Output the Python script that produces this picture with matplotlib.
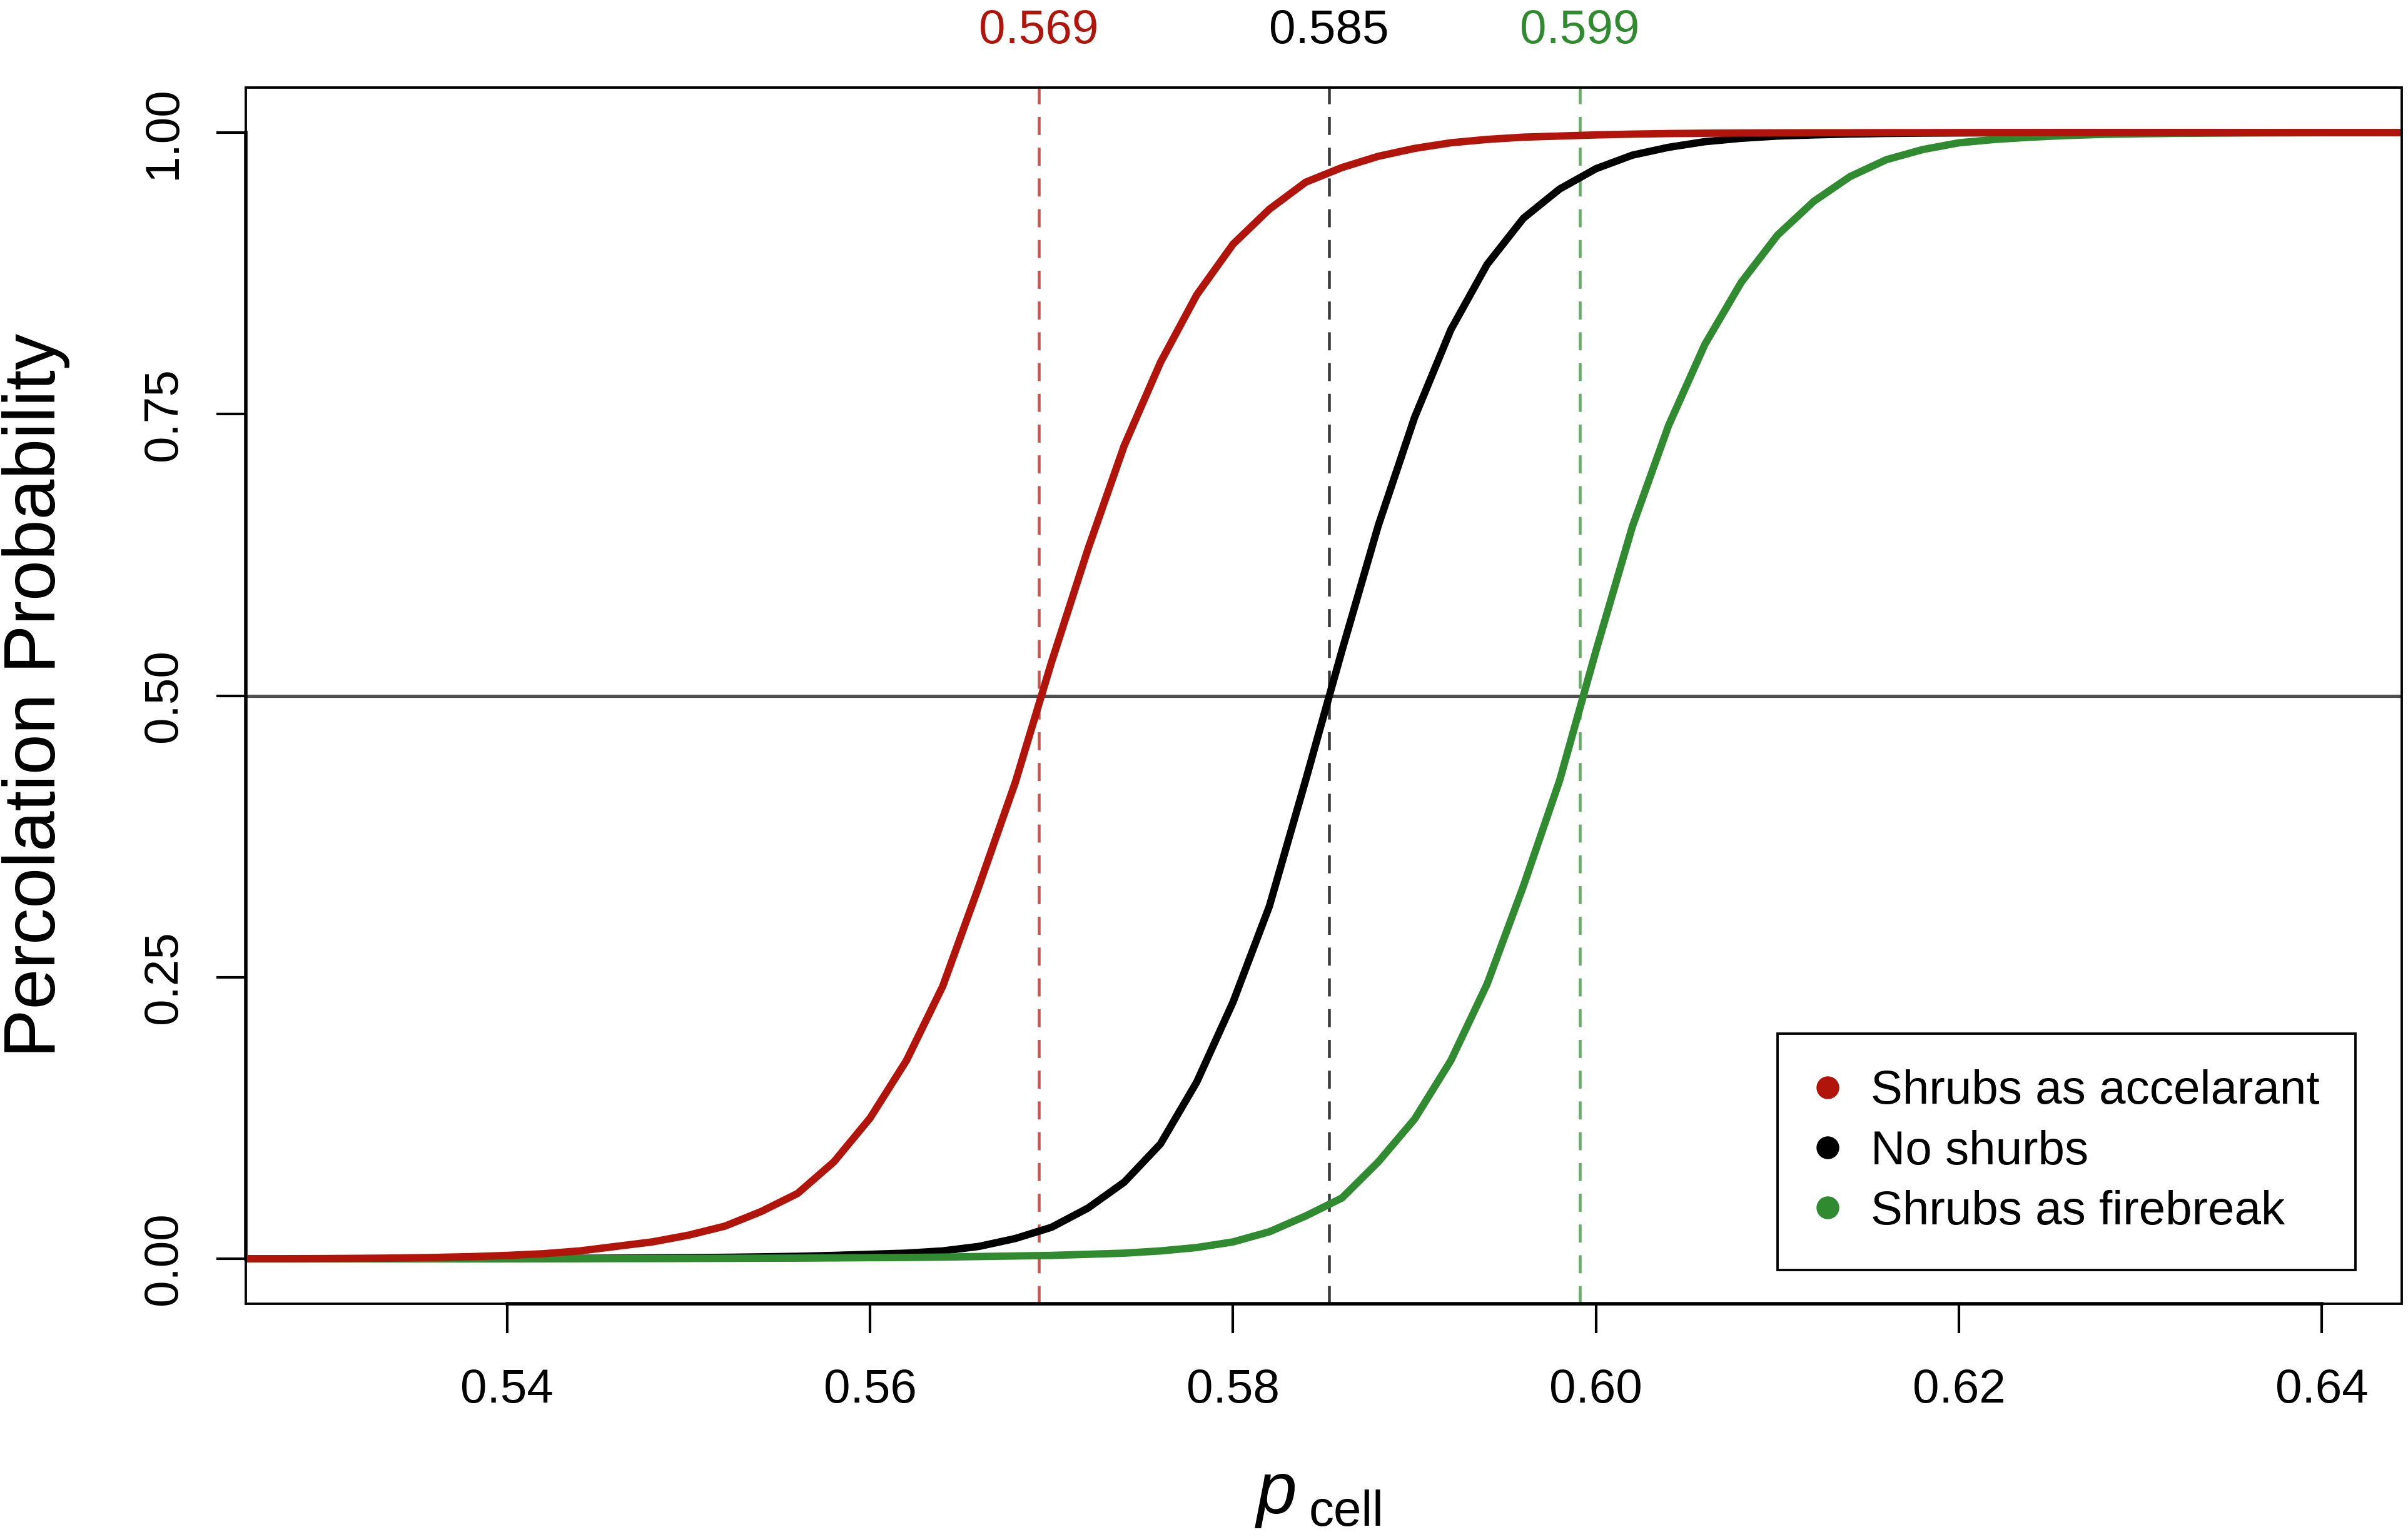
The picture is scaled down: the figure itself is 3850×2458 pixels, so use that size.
import matplotlib
matplotlib.use("Agg")
import matplotlib.pyplot as plt
from matplotlib.lines import Line2D
from matplotlib.patches import Rectangle

p_cell = [0.524, 0.526, 0.528,
          0.530, 0.532, 0.534, 0.536, 0.538, 0.540, 0.542, 0.544, 0.546, 0.548,
          0.550, 0.552, 0.554, 0.556, 0.558, 0.560, 0.562, 0.564, 0.566, 0.568,
          0.570, 0.572, 0.574, 0.576, 0.578, 0.580, 0.582, 0.584, 0.586, 0.588,
          0.590, 0.592, 0.594, 0.596, 0.598, 0.600, 0.602, 0.604, 0.606, 0.608,
          0.610, 0.612, 0.614, 0.616, 0.618, 0.620, 0.622, 0.624, 0.626, 0.628,
          0.630, 0.632, 0.634, 0.636, 0.638, 0.640, 0.642, 0.644, 0.646]

accelerant = [0.0, 0.0001, 0.0001,
              0.0002, 0.0004, 0.0007, 0.0012, 0.0019, 0.003, 0.0045, 0.007, 0.011, 0.015,
              0.021, 0.029, 0.042, 0.058, 0.086, 0.125, 0.176, 0.242, 0.331, 0.423,
              0.530, 0.630, 0.722, 0.796, 0.856, 0.901, 0.932, 0.956, 0.969, 0.979,
              0.986, 0.991, 0.994, 0.996, 0.997, 0.998, 0.9987, 0.9992, 0.9995, 0.9997,
              0.9998, 0.9999, 0.9999, 1.0, 1.0, 1.0, 1.0, 1.0, 1.0, 1.0,
              1.0, 1.0, 1.0, 1.0, 1.0, 1.0, 1.0, 1.0, 1.0]

no_shrubs = [0.0, 0.0, 0.0,
             0.0, 0.0, 0.0, 0.0001, 0.0001, 0.0002, 0.0003, 0.0004, 0.0006, 0.0008,
             0.001, 0.0013, 0.0017, 0.0022, 0.003, 0.004, 0.005, 0.007, 0.011, 0.018,
             0.028, 0.045, 0.068, 0.102, 0.157, 0.228, 0.313, 0.425, 0.540, 0.651,
             0.747, 0.825, 0.883, 0.924, 0.950, 0.968, 0.980, 0.987, 0.992, 0.995,
             0.997, 0.998, 0.9988, 0.9993, 0.9996, 0.9998, 0.9999, 0.9999, 1.0, 1.0,
             1.0, 1.0, 1.0, 1.0, 1.0, 1.0, 1.0, 1.0, 1.0]

firebreak = [0.0, 0.0, 0.0,
             0.0, 0.0, 0.0, 0.0, 0.0, 0.0001, 0.0001, 0.0001, 0.0002, 0.0002,
             0.0003, 0.0004, 0.0005, 0.0006, 0.0008, 0.001, 0.0012, 0.0015, 0.002, 0.0025,
             0.003, 0.004, 0.005, 0.007, 0.010, 0.015, 0.024, 0.038, 0.054, 0.086,
             0.124, 0.176, 0.244, 0.331, 0.425, 0.540, 0.650, 0.740, 0.812, 0.867,
             0.909, 0.939, 0.961, 0.976, 0.985, 0.991, 0.994, 0.996, 0.9975, 0.9985,
             0.999, 0.9994, 0.9996, 0.9998, 0.9999, 1.0, 1.0, 1.0, 1.0]

# p where each curve crosses 0.5 (printed rounded above the plot)
thresholds = [0.5693, 0.5853, 0.5991]
labels = ["Shrubs as accelarant", "No shurbs", "Shrubs as firebreak"]
colors = ["#b0140a", "#000000", "#2f8a30"]
dash_colors = ["#d0504a", "#3a3a3a", "#6aa86a"]

x_ticks = [0.54, 0.56, 0.58, 0.60, 0.62, 0.64]
y_ticks = [0.00, 0.25, 0.50, 0.75, 1.00]

plt.rcParams["font.family"] = ["Liberation Sans", "DejaVu Sans"]

fig = plt.figure(figsize=(15.4, 9.832), dpi=250)
ax = fig.add_axes([0.1021, 0.1517, 0.8953, 0.7913])

# horizontal 50% line and threshold verticals
ax.axhline(0.5, color="#505050", lw=1.5, zorder=1)
for t, c in zip(thresholds, dash_colors):
    ax.axvline(t, color=c, lw=1.3, linestyle=(0, (6.4, 4.5)), zorder=1)

for ys, c in zip([no_shrubs, firebreak, accelerant], [colors[1], colors[2], colors[0]]):
    ax.plot(p_cell, ys, color=c, lw=3.4, solid_capstyle="butt", zorder=3)

ax.set_xlim(0.5256, 0.6444)
ax.set_ylim(-0.04, 1.04)

ax.set_xticks(x_ticks)
ax.set_xticklabels([f"{v:.2f}" for v in x_ticks])
ax.set_yticks(y_ticks)
ax.set_yticklabels([f"{v:.2f}" for v in y_ticks], rotation=90, va="center")
ax.tick_params(axis="both", direction="out", length=13.5, width=1.2,
               labelsize=22, colors="black")
ax.tick_params(axis="x", pad=16)
ax.tick_params(axis="y", pad=14)

# R style: thin box + thicker axis lines over tick range
for s in ["top", "right"]:
    ax.spines[s].set_visible(False)
ax.spines["left"].set_bounds(0.0, 1.0)
ax.spines["bottom"].set_bounds(0.54, 0.64)
ax.spines["left"].set_linewidth(1.6)
ax.spines["bottom"].set_linewidth(1.6)
ax.add_patch(Rectangle((0, 0), 1, 1, transform=ax.transAxes, fill=False,
                       lw=1.1, edgecolor="black", clip_on=False, zorder=5))

# threshold values above the box
trans = ax.get_xaxis_transform()
for t, c in zip(thresholds, colors):
    ax.text(t, 1.0365, f"{t:.3f}", transform=trans, ha="center", va="baseline",
            fontsize=22, color=c)

# axis labels
fig.text(0.0229, 0.5475, "Percolation Probability", rotation=90,
         rotation_mode="anchor", ha="center", va="baseline", fontsize=33.5)
fig.text(0.5302, 0.0155, "p", style="italic", ha="center", va="baseline", fontsize=33.5)
fig.text(0.5436, 0.0073, "cell", ha="left", va="baseline", fontsize=23)

handles = [Line2D([], [], marker="o", linestyle="none", markersize=9.5,
                  markerfacecolor=c, markeredgecolor=c) for c in colors]
leg = ax.legend(handles, labels, loc="lower right", bbox_to_anchor=(0.9785, 0.0278),
                borderaxespad=0, fontsize=22, frameon=True, fancybox=False,
                edgecolor="black", framealpha=1, borderpad=0.75, labelspacing=0.33,
                handlelength=0.6, handletextpad=0.6)
leg.get_frame().set_linewidth(1.1)

fig.savefig("out.png", dpi=250)
